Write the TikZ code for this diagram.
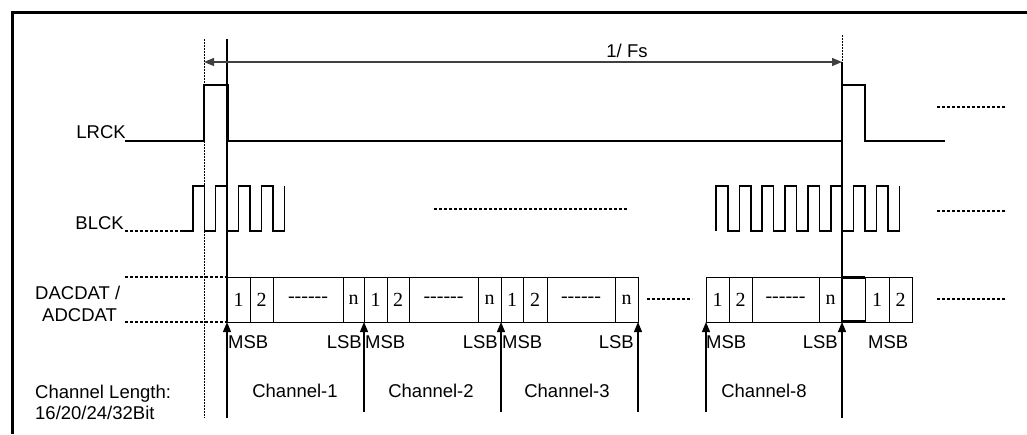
\documentclass[tikz,border=0pt]{standalone}
\usepackage{fontspec}
\setmainfont{Liberation Sans}
\newfontfamily\serifcell{Liberation Serif}
\usetikzlibrary{arrows.meta}
\begin{document}
\begin{tikzpicture}[x=1pt,y=-1pt,
 lbl/.style={font=\fontsize{18.5}{22}\selectfont, inner sep=0pt},
 cell/.style={font=\serifcell\fontsize{20}{22}\selectfont, inner sep=0pt},
 wave/.style={line width=1.5pt, line join=miter},
 dots/.style={line width=1.5pt, dash pattern=on 3pt off 2pt},
 boxl/.style={line width=1pt},
 tick/.style={line width=1.2pt, -{Triangle[length=10pt,width=8pt]}},
 fine/.style={line width=1pt, dash pattern=on 2pt off 1pt},
]
\useasboundingbox (0,0) rectangle (1027,434);
% frame
\draw[line width=3pt] (12,434) -- (12,12.5) -- (1027,12.5);

% reference verticals
\coordinate (vdTop) at (204,39);
\coordinate (vdBot) at (204,418);
\draw[fine] (vdTop) -- (vdBot);
\coordinate (vsTop) at (227,39);
\coordinate (vsArr) at (227,322);
\coordinate (vsBot) at (227,418);
\draw[line width=1.2pt] (vsTop) -- (vsArr);
\coordinate (vrTop) at (842,35);
\coordinate (vrMid) at (842,62);
\coordinate (vrArr) at (842,322);
\coordinate (vrBot) at (842,418);
\draw[fine] (vrTop) -- (vrMid);
\draw[line width=1.2pt] (vrMid) -- (vrArr);

% 1/Fs arrow
\draw[line width=1.3pt, draw=black!75, {Triangle[length=10pt,width=8pt]}-{Triangle[length=10pt,width=8pt]}] (204,62) -- (vrMid);
\node[lbl, anchor=base] (fs) at (627,57) {1/ Fs};

% LRCK
\node[lbl, anchor=base east] (lrck) at (126,138) {LRCK};
\draw[wave] (125,141) -- (204,141) -- (204,85) -- (228,85) -- (228,141)
  -- (842,141) -- (842,85) -- (865,85) -- (865,141) -- (945,141);
\draw[dots] (937,107) -- (1005,107);

% BLCK
\node[lbl, anchor=base east] (blck) at (124,229) {BLCK};
\draw[dots] (125,231) -- (182,231);
\draw[wave] (182,231) -- (193,231)
  \foreach \a/\b in {193/204.5,215.5/227,238.5/250,261.5/273}{ -- (\a,231) -- (\a,186) -- (\b,186) -- (\b,231)} -- (284.5,231) -- (284.5,186);
\draw[wave] (716,231)
  \foreach \a/\b in {716/728,739.5/751,762/773.5,785/796.5,808/819.5,831/842,853.5/865,876.5/888}{ -- (\a,231) -- (\a,186) -- (\b,186) -- (\b,231)} -- (899.5,231) -- (899.5,186);
\draw[dots] (434,209) -- (627,209);
\draw[dots] (937,211) -- (1005,211);

% DACDAT
\node[lbl, anchor=base west] (dac) at (35,299) {DACDAT /};
\node[lbl, anchor=base west] (adc) at (42,321) {ADCDAT};
\draw[dots] (125,277) -- (227,277);
\draw[dots] (125,322) -- (227,322);

% channel boxes
\foreach \x/\c/\d/\e/\f [count=\i] in {227/250/273/343/364, 364/387/409/478/501, 501/523/547/615/638, 706/729/752/819/842}{
  \draw[boxl] (\x,277) rectangle (\f,322);
  \draw[boxl] (\c,277) -- (\c,322) (\d,277) -- (\d,322) (\e,277) -- (\e,322);
  \node[cell] (one\i) at ({(\x+\c)/2},300) {1};
  \node[cell] (two\i) at ({(\c+\d)/2},300) {2};
  \node[cell] (dash\i) at ({(\d+\e)/2},300) {------};
  \node[cell] (n\i) at ({(\e+\f)/2},300) {n};
}
\draw[boxl] (842,277) rectangle (912,322);
\draw[boxl] (865,277) -- (865,322) (889,277) -- (889,322);
\draw[line width=2.2pt] (842,277.5) -- (865,277.5) (842,321.5) -- (865,321.5);
\node[cell] (one9) at (877,300) {1};
\node[cell] (two9) at (900.5,300) {2};
\draw[dots] (647,299) -- (692,299);
\draw[dots] (937,299) -- (1005,299);

% position arrows
\coordinate (a1b) at (364,412);
\coordinate (a1t) at (364,322);
\coordinate (a2b) at (501,412);
\coordinate (a2t) at (501,322);
\coordinate (a3b) at (638,412);
\coordinate (a3t) at (638,322);
\coordinate (a4b) at (706,412);
\coordinate (a4t) at (706,322);
\draw[tick] (vsBot) -- (vsArr);
\draw[tick] (vrBot) -- (vrArr);
\draw[tick] (a1b) -- (a1t);
\draw[tick] (a2b) -- (a2t);
\draw[tick] (a3b) -- (a3t);
\draw[tick] (a4b) -- (a4t);

% MSB / LSB
\node[lbl, anchor=base west] (msb1) at (228,348) {MSB};
\node[lbl, anchor=base east] (lsb1) at (362,348) {LSB};
\node[lbl, anchor=base west] (msb2) at (365,348) {MSB};
\node[lbl, anchor=base east] (lsb2) at (498,348) {LSB};
\node[lbl, anchor=base west] (msb3) at (502,348) {MSB};
\node[lbl, anchor=base east] (lsb3) at (634,348) {LSB};
\node[lbl, anchor=base west] (msb4) at (706,348) {MSB};
\node[lbl, anchor=base east] (lsb4) at (838,348) {LSB};
\node[lbl, anchor=base west] (msb5) at (868,348) {MSB};

% channel names
\node[lbl, anchor=base] (ch1) at (295,397) {Channel-1};
\node[lbl, anchor=base] (ch2) at (431,397) {Channel-2};
\node[lbl, anchor=base] (ch3) at (567,397) {Channel-3};
\node[lbl, anchor=base] (ch8) at (764,397) {Channel-8};

% channel length
\node[lbl, anchor=base west] (cl1) at (35,398) {Channel Length:};
\node[lbl, anchor=base west] (cl2) at (35,419) {16/20/24/32Bit};
\end{tikzpicture}
\end{document}
